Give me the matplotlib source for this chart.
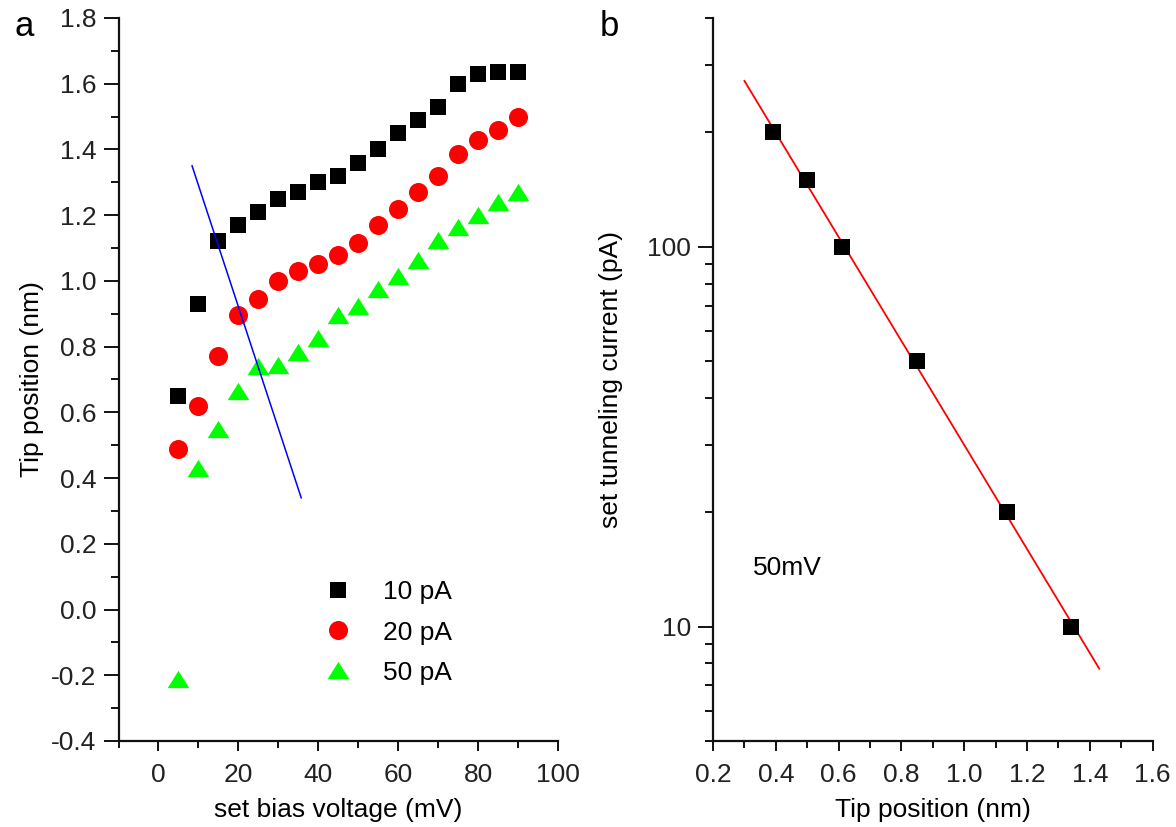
import numpy as np
import matplotlib
matplotlib.use("Agg")
import matplotlib.pyplot as plt
from matplotlib.ticker import MultipleLocator, FormatStrFormatter, LogLocator, NullFormatter, FuncFormatter

plt.rcParams['font.family'] = ['Liberation Sans', 'DejaVu Sans']
plt.rcParams['axes.unicode_minus'] = False

# ---- panel a: tip position vs. set bias voltage ----
bias_mV = [5, 10, 15, 20, 25, 30, 35, 40, 45, 50, 55, 60, 65, 70, 75, 80, 85, 90]
tip_10pA = [0.65, 0.93, 1.12, 1.17, 1.21, 1.25, 1.27, 1.30, 1.32, 1.36, 1.40,
            1.45, 1.49, 1.53, 1.60, 1.63, 1.635, 1.635]
tip_20pA = [0.49, 0.62, 0.77, 0.895, 0.945, 1.00, 1.03, 1.05, 1.08, 1.115, 1.17,
            1.22, 1.27, 1.32, 1.385, 1.43, 1.46, 1.50]
tip_50pA = [-0.21, 0.43, 0.55, 0.665, 0.74, 0.745, 0.785, 0.825, 0.895, 0.925,
            0.975, 1.015, 1.065, 1.125, 1.165, 1.20, 1.24, 1.27]
series_labels = ['10 pA', '20 pA', '50 pA']

# guide line drawn across the low-bias kink
guide_bias = [8.4, 35.7]
guide_tip = [1.35, 0.34]

# ---- panel b: set current vs. tip position at 50 mV ----
tip_pos_nm = [0.39, 0.50, 0.61, 0.85, 1.135, 1.34]
current_pA = [200, 150, 100, 50, 20, 10]
fit_range_nm = [0.30, 1.43]

FS = 19
fig = plt.figure(figsize=(11.76, 8.27), dpi=100)
W, H = 1176.0, 827.0
ax_a = fig.add_axes([118.5 / W, 86 / H, (558.3 - 118.5) / W, 723 / H])
ax_b = fig.add_axes([713 / W, 86 / H, (1152.7 - 713) / W, 723 / H])

tri = [(-1, -0.8), (1, -0.8), (0, 0.8)]

ax_a.plot(bias_mV, tip_10pA, linestyle='none', marker='s', ms=12,
          color='black', mew=0, label=series_labels[0])
ax_a.plot(bias_mV, tip_20pA, linestyle='none', marker='o', ms=13.7,
          color='#ff0000', mew=0, label=series_labels[1])
ax_a.plot(bias_mV, tip_50pA, linestyle='none', marker=tri, ms=15.6,
          color='#00ff00', mew=0, label=series_labels[2])
ax_a.plot(guide_bias, guide_tip, color='#0000ff', lw=1.1)

ax_a.set_xlim(-10, 100)
ax_a.set_ylim(-0.4, 1.8)
ax_a.xaxis.set_major_locator(MultipleLocator(20))
ax_a.xaxis.set_minor_locator(MultipleLocator(10))
ax_a.yaxis.set_major_locator(MultipleLocator(0.2))
ax_a.yaxis.set_minor_locator(MultipleLocator(0.1))
ax_a.yaxis.set_major_formatter(FormatStrFormatter('%.1f'))
ax_a.set_xlabel('set bias voltage (mV)', fontsize=FS, labelpad=8)
ax_a.set_ylabel('Tip position (nm)', fontsize=FS, labelpad=5)

leg = ax_a.legend(loc='upper left', bbox_to_anchor=(0.469, 0.222), frameon=False,
                  fontsize=FS, numpoints=1, handlelength=1.0, handletextpad=1.2,
                  labelspacing=0.61, borderpad=0, borderaxespad=0)

# fit of log10(I) against tip position
slope, intercept = np.polyfit(tip_pos_nm, np.log10(current_pA), 1)
xf = np.array(fit_range_nm)
ax_b.plot(xf, 10 ** (intercept + slope * xf), color='#ff0000', lw=1.3, zorder=2)
ax_b.plot(tip_pos_nm, current_pA, linestyle='none', marker='s', ms=11.8,
          color='black', mew=0, zorder=3)
ax_b.set_yscale('log')
ax_b.set_xlim(0.2, 1.6)
ax_b.set_ylim(5, 400)
ax_b.xaxis.set_major_locator(MultipleLocator(0.2))
ax_b.xaxis.set_minor_locator(MultipleLocator(0.1))
ax_b.xaxis.set_major_formatter(FormatStrFormatter('%.1f'))
ax_b.yaxis.set_major_locator(LogLocator(base=10))
ax_b.yaxis.set_minor_locator(LogLocator(base=10, subs=np.arange(2, 10)))
ax_b.yaxis.set_major_formatter(FuncFormatter(lambda v, p: '%d' % round(v)))
ax_b.yaxis.set_minor_formatter(NullFormatter())
ax_b.set_xlabel('Tip position (nm)', fontsize=FS, labelpad=8)
ax_b.set_ylabel('set tunneling current (pA)', fontsize=FS, labelpad=17)
ax_b.text(0.327, 14.3, '50mV', fontsize=FS, ha='left', va='center')

for ax in (ax_a, ax_b):
    for s in ('top', 'right'):
        ax.spines[s].set_visible(False)
    for s in ('left', 'bottom'):
        ax.spines[s].set_linewidth(1.6)
        ax.spines[s].set_color('#111111')
    ax.tick_params(axis='both', which='both', direction='out', width=1.4,
                   colors='#111111', labelsize=FS, labelcolor='#222222')
    ax.tick_params(axis='y', which='major', length=11, pad=5)
    ax.tick_params(axis='y', which='minor', length=6)
    ax.tick_params(axis='x', which='major', length=7, pad=9)
    ax.tick_params(axis='x', which='minor', length=5)
    ax.set_facecolor('none')

fig.text(15 / W, 1 - 36 / H, 'a', fontsize=25, ha='left', va='baseline')
fig.text(600 / W, 1 - 36 / H, 'b', fontsize=25, ha='left', va='baseline')

fig.savefig('out.png', dpi=100, facecolor='white')
